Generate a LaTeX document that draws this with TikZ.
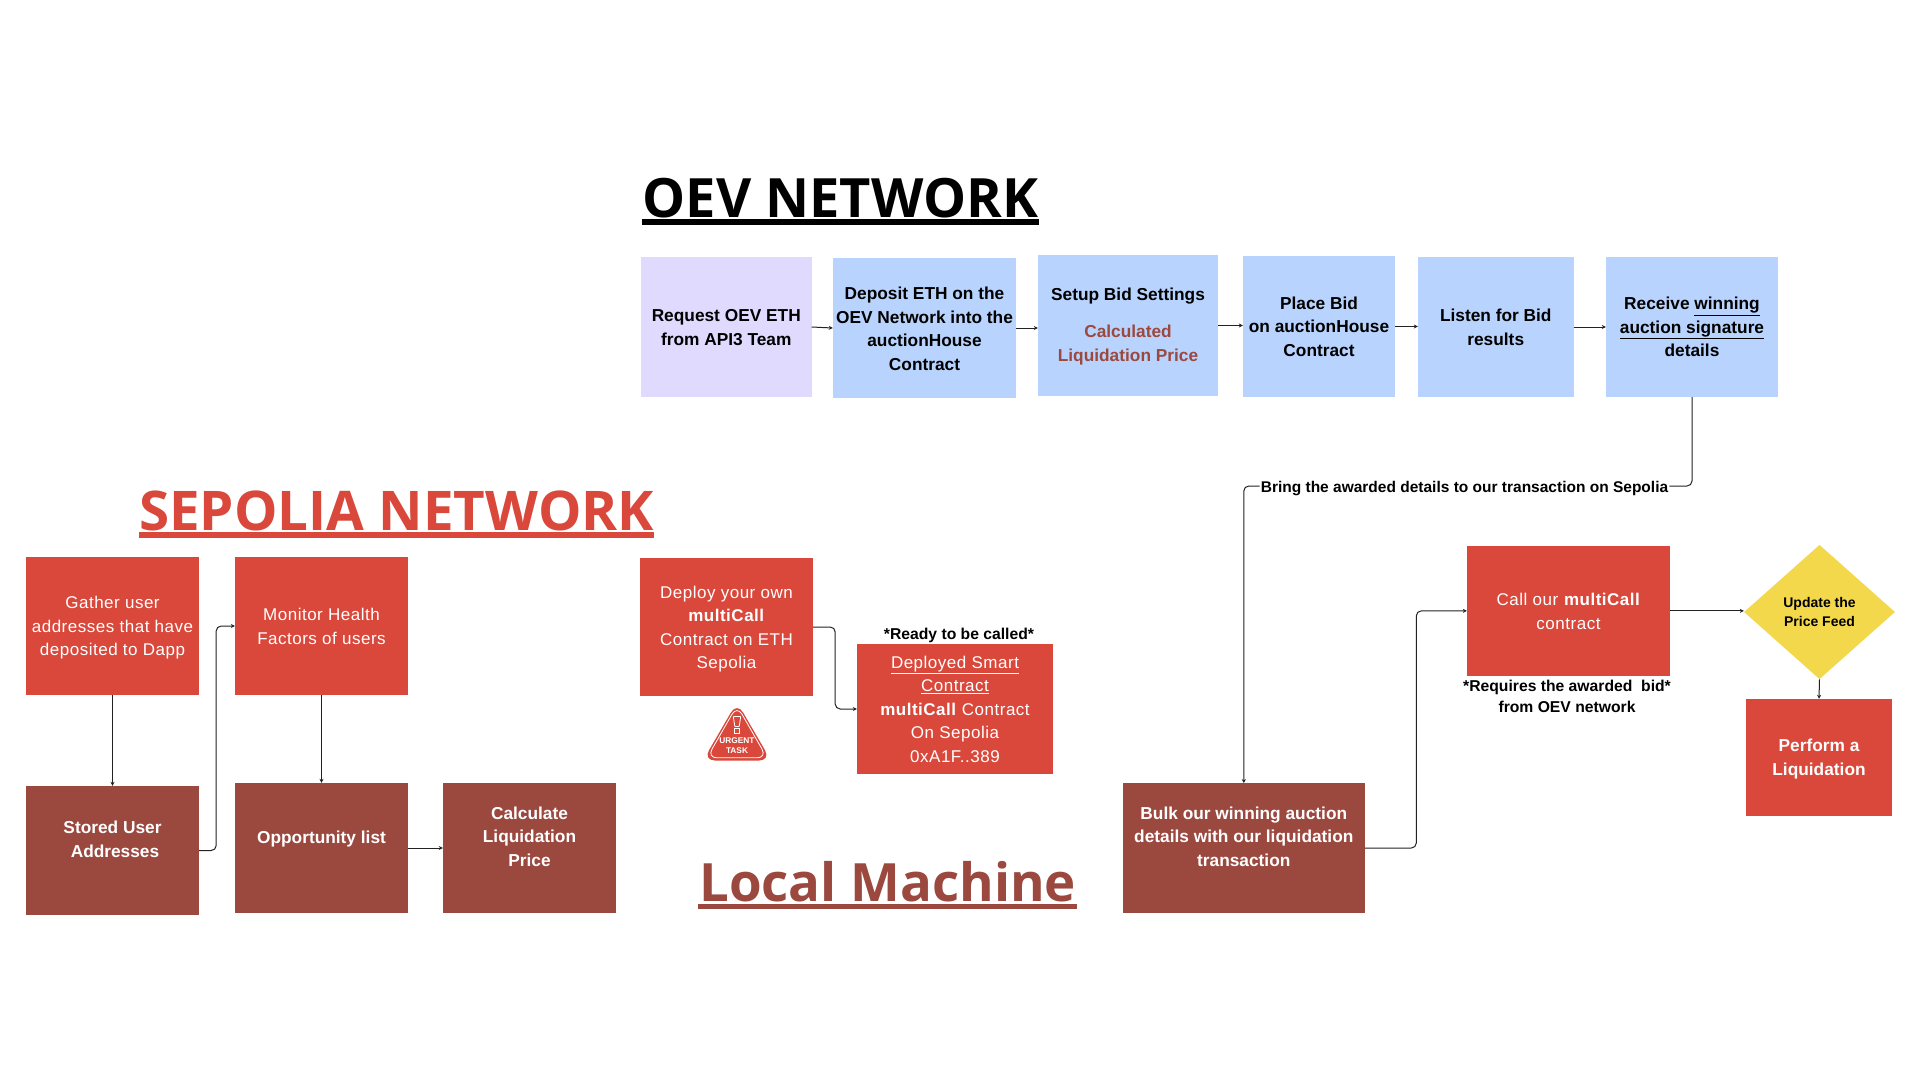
\documentclass[tikz,border=0pt]{standalone}
\usepackage{fontspec}
\usetikzlibrary{arrows.meta,calc,shapes.geometric}
\setmainfont{Liberation Sans}
\newfontfamily\regfont[LetterSpace=3]{Liberation Sans}
\newfontfamily\titlefont{Open Sans}
\definecolor{redbox}{HTML}{D9483B}
\definecolor{darkbox}{HTML}{9B483F}
\definecolor{bluebox}{HTML}{B8D4FE}
\definecolor{lavbox}{HTML}{E0DAFF}
\definecolor{yellowbox}{HTML}{F4D84C}
\definecolor{linecol}{HTML}{222222}
\tikzset{
  base/.style={inner sep=0pt,align=center,font=\fontsize{17.3}{23.5}\selectfont\bfseries},
  bluenode/.style={base,fill=bluebox,text=black},
  lavnode/.style={base,fill=lavbox,text=black},
  rednode/.style={base,fill=redbox,text=white,font=\fontsize{17}{23.5}\selectfont\regfont},
  redbold/.style={base,fill=redbox,text=white},
  darknode/.style={base,fill=darkbox,text=white},
  note/.style={inner sep=1pt,align=center,text=black,font=\fontsize{15.7}{21}\selectfont\bfseries},
  conn/.style={draw=linecol,line width=1pt,rounded corners=5pt,-{Stealth[length=4pt,width=4pt]}},
  plain/.style={draw=linecol,line width=1pt,rounded corners=5pt},
  heading/.style={inner sep=0pt,anchor=base west}
}
\newcommand{\mybox}[7]{%
  \node[#2,minimum width={(#5-#3)*1pt},minimum height={(#6-#4)*1pt}] (#1) at ({(#3+#5)/2},{(#4+#6)/2}) {#7};}
% a first line taller by twice the amount lowers the centred text by the amount
\newcommand{\dn}[1]{\rule{0pt}{\dimexpr12.5pt+2\dimexpr#1pt\relax\relax}}
\begin{document}
\begin{tikzpicture}[x=1pt,y=-1pt]
\useasboundingbox[fill=white] (0,0) rectangle (1920,1080);

% headings
\node[heading,font=\titlefont\bfseries\fontsize{54.2}{60}\selectfont,text=black] (t1) at (642.5,217.7) {OEV NETWORK};
\node[heading,font=\titlefont\bfseries\fontsize{54.7}{60}\selectfont,text=redbox] (t2) at (139,530) {SEPOLIA NETWORK};
\node[heading,font=\titlefont\bfseries\fontsize{52.8}{60}\selectfont,text=darkbox] (t3) at (699,901) {Local Machine};
\path[fill=black] ($(t1.base west)+(-0.5,1.5)$) rectangle ($(t1.base east)+(0.5,7.3)$);
\path[fill=redbox] ($(t2.base west)+(0,2.3)$) rectangle ($(t2.base east)+(0,7.7)$);
\path[fill=darkbox] ($(t3.base west)+(-1.3,3.3)$) rectangle ($(t3.base east)+(1,8)$);

% top row
\mybox{req}{lavnode}{641}{257}{811.5}{397}{\dn{0.2}Request OEV ETH\\from API3 Team}
\mybox{dep}{bluenode}{833}{258}{1016}{398}{\dn{0.6}Deposit ETH on the\\OEV Network into the\\auctionHouse\\Contract}
\mybox{setup}{bluenode}{1038}{255}{1218}{396}{\dn{1}Setup Bid Settings\\[13.5pt]\textcolor{darkbox}{Calculated}\\\textcolor{darkbox}{Liquidation Price}}
\mybox{place}{bluenode}{1243}{256}{1395}{397}{Place Bid\\on auctionHouse\\Contract}
\mybox{listen}{bluenode}{1418}{257}{1573.5}{397}{\dn{0.2}Listen for Bid\\results}
\mybox{recv}{bluenode}{1606}{257}{1778}{397}{Receive \underline{winning}\\\underline{auction signature}\\details}

% left column
\mybox{gather}{rednode}{26}{557}{199}{695}{\dn{1.8}Gather user\\addresses that have\\deposited to Dapp}
\mybox{monitor}{rednode}{235}{557}{408}{695}{\dn{0.5}Monitor Health\\Factors of users}
\mybox{stored}{darknode}{26}{786}{199}{915}{\dn{0.5}Stored User\\\hspace*{5pt}Addresses\\~}
\mybox{opp}{darknode}{235}{783}{408}{913}{\dn{1}Opportunity list\\~}
\mybox{calc}{darknode}{443}{783}{616}{913}{Calculate\\Liquidation\\Price\\~}

% middle
\mybox{deploy}{rednode}{640}{558}{813}{696}{\dn{1.8}Deploy your own\\\textbf{multiCall}\\Contract on ETH\\Sepolia}
\mybox{deployed}{rednode}{857}{644}{1053}{774}{\underline{Deployed Smart}\\\underline{Contract}\\\textbf{multiCall} Contract\\On Sepolia\\0xA1F..389}
\node[note] (ready) at (959,635.5) {*Ready to be called*};

% urgent badge
\path[fill=redbox,rounded corners=12pt] (737,702) -- (771,760.5) -- (703,760.5) -- cycle;
\path[draw=white,line width=0.8pt,rounded corners=10pt] (737,705.5) -- (767,757.8) -- (707,757.8) -- cycle;
\path[draw=white,line width=0.8pt,rounded corners=0.5pt] (733.3,716.5) -- (740.7,716.5) -- (739.2,726.5) -- (734.8,726.5) -- cycle;
\path[draw=white,line width=0.8pt] (734.7,728.5) rectangle (739.3,733);
\node[inner sep=0pt,text=white,align=center,font=\fontsize{8.3}{9.6}\selectfont\bfseries] (urgent) at (737,745.5) {URGENT\\TASK};

% right part
\mybox{bulk}{darknode}{1123}{783.3}{1364.6}{912.7}{Bulk our winning auction\\details with our liquidation\\transaction\\~}
\mybox{call}{rednode}{1467}{546}{1670}{675.7}{\dn{0.7}Call our \textbf{multiCall}\\contract}
\node[note] (req2) at (1567,696.5) {*Requires the awarded\ \ bid*\\from OEV network};
\node[diamond,aspect=1.124,fill=yellowbox,inner sep=0pt,minimum width=151pt,minimum height=134.3pt,align=center,text=black,font=\fontsize{14}{19}\selectfont\bfseries] (feed) at (1819.5,612) {Update the\\Price Feed};
\mybox{perform}{redbold}{1746}{699}{1892}{815.7}{\dn{1.8}Perform a\\Liquidation}

\node[note,font=\fontsize{15.5}{21}\selectfont\bfseries] (bring) at (1464.5,486) {\rule{0pt}{16pt}Bring the awarded details to our transaction on Sepolia};

% connectors
\draw[conn] (req.east) -- (dep.west);
\draw[conn] (dep.east) -- (dep.east -| setup.west);
\draw[conn] (setup.east) -- (setup.east -| place.west);
\draw[conn] (place.east) -- (place.east -| listen.west);
\draw[conn] (listen.east) -- (recv.west);
\draw[plain] (recv.south) |- (bring.east);
\draw[conn] (bring.west) -| (bulk.north);
\draw[conn] (gather.south) -- (stored.north);
\draw[conn] (monitor.south) -- (opp.north);
\draw[conn] (opp.east) -- (calc.west);
\draw[conn] (stored.east) -- ++(17,0) |- (monitor.west);
\draw[conn] (deploy.east) -- ++(22,0) |- (deployed.west);
\draw[conn] (bulk.east) -- ++(51.5,0) |- (call.west);
\draw[conn] (call.east) -- (call.east -| feed.west);
\draw[conn] (feed.south) -- (perform.north);
\end{tikzpicture}
\end{document}
